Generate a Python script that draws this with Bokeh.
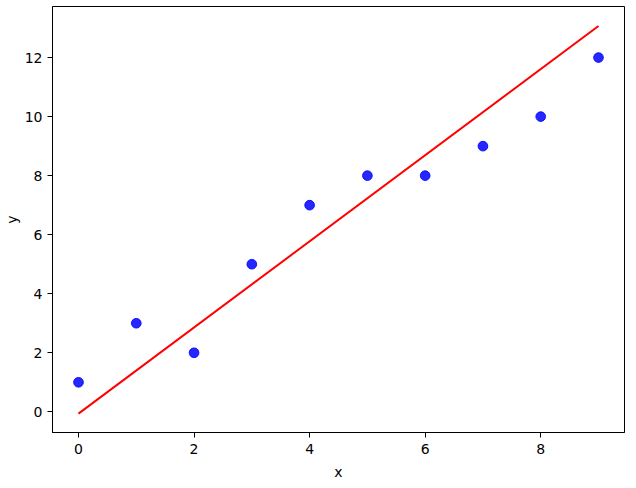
from bokeh.plotting import figure
from bokeh.models import FixedTicker, Range1d
from bokeh.embed import file_html
from bokeh.resources import INLINE

x_vals = [0, 1, 2, 3, 4, 5, 6, 7, 8, 9]
y_vals = [1, 3, 2, 5, 7, 8, 8, 9, 10, 12]
fit_x = [0, 9]
fit_y = [-0.06, 13.07]
x_ticks = [0, 2, 4, 6, 8]
y_ticks = [0, 2, 4, 6, 8, 10, 12]

p = figure(frame_width=572, frame_height=426, output_backend="svg", toolbar_location=None,
           x_range=Range1d(-0.45, 9.45), y_range=Range1d(-0.7, 13.73),
           min_border_left=43, min_border_right=5, min_border_top=6, min_border_bottom=50)

p.line(fit_x, fit_y, line_color="red", line_width=2)
p.scatter(x_vals, y_vals, size=9.7, fill_color="blue", line_color="blue", alpha=0.85)

p.grid.visible = False
p.outline_line_color = "black"
p.outline_line_width = 1
p.background_fill_color = "white"
p.border_fill_color = "white"

for ax, ticks, label in ((p.xaxis[0], x_ticks, "x"), (p.yaxis[0], y_ticks, "y")):
    ax.ticker = FixedTicker(ticks=ticks)
    ax.axis_label = label
    ax.axis_label_text_font = "DejaVu Sans"
    ax.axis_label_text_font_style = "normal"
    ax.axis_label_text_font_size = "14px"
    ax.axis_label_text_color = "black"
    ax.major_label_text_font = "DejaVu Sans"
    ax.major_label_text_font_size = "14px"
    ax.major_label_text_color = "black"
    ax.major_tick_out = 5
    ax.major_tick_in = 0
    ax.minor_tick_out = 0
    ax.minor_tick_in = 0
    ax.major_tick_line_color = "black"
    ax.axis_line_color = "black"

p.xaxis[0].major_label_standoff = 6
p.xaxis[0].axis_label_standoff = 7
p.yaxis[0].major_label_standoff = 5
p.yaxis[0].axis_label_standoff = 2

open("out.html", "w").write(file_html(p, INLINE))
